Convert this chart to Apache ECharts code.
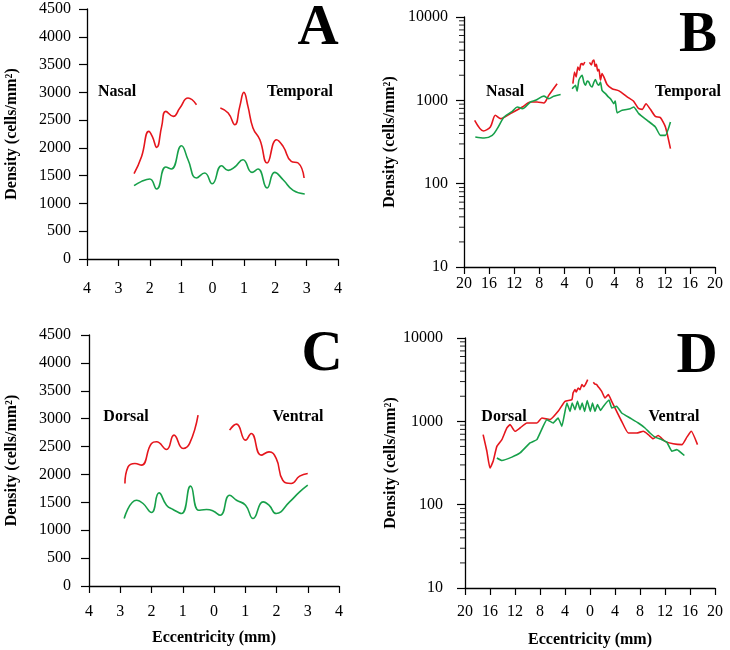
<!DOCTYPE html>
<html><head><meta charset="utf-8">
<script src="https://cdn.jsdelivr.net/npm/echarts@6/dist/echarts.min.js"></script>
<style>html,body{margin:0;padding:0;background:#fff}#c{width:730px;height:650px}</style>
</head><body><div id="c"></div>
<script>
// ---------- Data (eccentricity mm, nasal/dorsal negative ; density cells/mm2) ----------
const linYTicks = [0, 500, 1000, 1500, 2000, 2500, 3000, 3500, 4000, 4500];
const logYTicks = [10, 100, 1000, 10000];
const logMinor = [20,30,40,50,60,70,80,90,200,300,400,500,600,700,800,900,2000,3000,4000,5000,6000,7000,8000,9000];

// Panel A (linear, mm)
const A_redNasal = [[-2.50,1535],[-2.26,1847],[-2.03,2297],[-1.92,2207],[-1.78,2009],[-1.62,2387],[-1.49,2657],[-1.25,2567],[-1.04,2718],[-0.78,2898],[-0.51,2777]];
const A_redTemporal = [[0.25,2718],[0.5,2628],[0.71,2417],[0.87,2747],[1.0,2999],[1.13,2747],[1.29,2358],[1.51,2147],[1.74,1728],[2.04,2147],[2.25,2027],[2.51,1757],[2.73,1728],[2.92,1458]];
const A_green = [[-2.50,1319],[-2.26,1397],[-2.0,1440],[-1.78,1260],[-1.49,1656],[-1.31,1620],[-0.99,2039],[-0.78,1787],[-0.51,1458],[-0.25,1548],[-0.01,1355],[0.29,1679],[0.5,1595],[0.71,1656],[0.97,1787],[1.26,1559],[1.45,1620],[1.74,1278],[1.98,1559],[2.25,1427],[2.57,1235],[2.94,1170]];

// Panel B (log, mm)
const B_redNasal = [[-18.3,576],[-16.9,429],[-15.8,479],[-15.0,661],[-14.2,603],[-12.6,693],[-10.7,832],[-9.4,955],[-8.35,955],[-7.28,929],[-6.5,1148],[-5.16,1585]];
const B_greenNasal = [[-18.2,363],[-16.8,353],[-15.5,380],[-14.7,458],[-13.6,631],[-12.3,738],[-11.5,832],[-10.7,794],[-9.4,955],[-8.6,1000],[-7.28,1122],[-6.5,1047],[-5.7,1122],[-4.6,1175]];
const B_redCentre = [[-2.65,1585],[-2.4,2188],[-2.13,1905],[-1.86,2512],[-1.6,2300],[-1.4,2700],[-1.18,2754],[-1.0,2650],[-0.75,2884]];
const B_redTemporal = [[0.0,2850],[0.3,2650],[0.5,2950],[0.7,3050],[0.9,2550],[1.1,2700],[1.3,2250],[1.5,2350],[1.75,1750],[2.0,2100],[2.3,1900],[2.8,1550],[3.6,1380],[4.7,1300],[6.0,1100],[7.0,980],[7.8,800],[8.4,780],[9.0,910],[9.7,780],[10.5,640],[11.3,620],[12.1,480],[12.9,263]];
const B_greenTemporal = [[-2.77,1380],[-2.5,1450],[-2.23,1514],[-1.97,1288],[-1.7,1738],[-1.45,1900],[-1.17,1995],[-0.9,1650],[-0.64,1514],[-0.38,1700],[-0.11,1660],[0.15,1500],[0.42,1445],[0.7,1650],[0.95,1778],[1.2,1600],[1.48,1514],[1.75,1660],[2.0,1318],[2.55,1202],[3.0,1100],[3.34,1047],[3.87,912],[4.1,980],[4.4,708],[5.2,759],[6.5,794],[7.06,832],[7.85,692],[9.2,575],[10.5,479],[11.3,380],[12.1,380],[12.9,550]];

// Panel C (linear, mm)
const C_redDorsal = [[-2.85,1838],[-2.75,2136],[-2.53,2197],[-2.32,2167],[-2.0,2556],[-1.84,2585],[-1.52,2448],[-1.28,2705],[-0.99,2466],[-0.78,2556],[-0.51,3064]];
const C_redVentral = [[0.5,2795],[0.72,2902],[1.01,2615],[1.19,2735],[1.51,2346],[1.76,2405],[1.99,2287],[2.2,1897],[2.47,1838],[2.74,1969],[3.0,2017]];
const C_green = [[-2.875,1210],[-2.48,1538],[-2.27,1479],[-2.0,1317],[-1.76,1669],[-1.52,1449],[-1.31,1371],[-1.04,1300],[-0.75,1790],[-0.49,1359],[-0.24,1371],[-0.03,1346],[0.2,1269],[0.5,1628],[0.72,1538],[1.01,1449],[1.25,1210],[1.57,1508],[1.76,1449],[1.99,1300],[2.42,1508],[2.74,1687],[3.0,1808]];

// Panel D (log, mm)
const D_redDorsal = [[-17.1,692],[-16.5,437],[-16.0,275],[-15.5,331],[-14.9,501],[-14.1,603],[-13.3,832],[-12.8,912],[-12.0,759],[-11.2,832],[-10.1,955],[-8.5,955],[-7.7,1096],[-6.4,1047],[-5.1,1318],[-4.0,1738],[-2.9,1820],[-2.7,2200],[-2.4,2399],[-2.2,2250],[-1.9,2512],[-1.6,2400],[-1.3,2754],[-1.0,2600],[-0.7,2800],[-0.37,3162]];
const D_redVentral = [[0.53,2951],[0.8,2800],[1.07,2754],[1.3,2600],[1.6,2450],[1.87,2291],[2.4,1905],[2.93,2089],[3.47,1738],[4.27,1318],[5.07,1000],[6.13,724],[7.47,724],[8.53,759],[9.33,692],[10.1,617],[10.9,676],[12.0,575],[13.3,537],[14.7,525],[15.5,646],[16.2,759],[17.2,525]];
const D_green = [[-14.9,363],[-14.1,339],[-12.5,372],[-11.2,417],[-9.6,550],[-8.5,603],[-6.9,1047],[-5.9,955],[-5.1,1096],[-4.5,871],[-3.7,1660],[-3.2,1318],[-2.85,1660],[-2.4,1380],[-2.0,1738],[-1.6,1380],[-1.25,1660],[-0.85,1318],[-0.45,1778],[0.05,1318],[0.4,1660],[0.8,1318],[1.2,1585],[1.7,1350],[2.1,1500],[3.04,1800],[3.47,1450],[4.27,1514],[5.07,1259],[6.4,1096],[7.73,955],[8.8,832],[9.6,724],[10.4,646],[11.5,603],[12.3,562],[13.1,437],[13.9,457],[15.1,389]];

const panelLetters = ['A', 'B', 'C', 'D'];
const sideLabels = [['Nasal','Temporal'],['Nasal','Temporal'],['Dorsal','Ventral'],['Dorsal','Ventral']];
const yTitle = 'Density (cells/mm\u00B2)';
const xTitle = 'Eccentricity (mm)';

// ---------- Styling ----------
const SERIF = '"Liberation Serif","Times New Roman",serif';
const RED = '#e5161d', GREEN = '#17a04a';
const chart = echarts.init(document.getElementById('c'));

const grids = [
  {left: 87, top: 9, width: 251, height: 250},
  {left: 464, top: 17, width: 251, height: 250},
  {left: 89, top: 335, width: 250, height: 251},
  {left: 465, top: 338, width: 250, height: 250}
];

function xAxis(gi, isLog, withName, margin) {
  return {
    type: 'value', gridIndex: gi,
    min: isLog ? -20 : -4, max: isLog ? 20 : 4, interval: isLog ? 4 : 1,
    axisLine: {onZero: false, lineStyle: {color: '#000', width: 1.3}},
    axisTick: {length: 7, lineStyle: {color: '#000', width: 1.2}},
    axisLabel: {formatter: v => String(Math.abs(v)), fontFamily: SERIF, fontSize: 16, color: '#000', margin: margin},
    splitLine: {show: false},
    name: withName ? xTitle : '', nameLocation: 'middle', nameGap: 44,
    nameTextStyle: {fontFamily: SERIF, fontSize: 16, fontWeight: 'bold', color: '#000'}
  };
}
function yAxis(gi, isLog, margin, gap) {
  const base = {
    gridIndex: gi, position: 'left',
    axisLine: {show: true, onZero: false, lineStyle: {color: '#000', width: 1.3}},
    axisTick: {show: true, length: 8, lineStyle: {color: '#000', width: 1.2}},
    axisLabel: {fontFamily: SERIF, fontSize: 16, color: '#000', margin: margin,
      formatter: v => String(Math.round(v))},
    splitLine: {show: false},
    name: yTitle, nameLocation: 'middle', nameGap: gap, nameRotate: 90,
    nameTextStyle: {fontFamily: SERIF, fontSize: 16, fontWeight: 'bold', color: '#000'}
  };
  if (isLog) return Object.assign(base, {type: 'log', logBase: 10, min: logYTicks[0], max: logYTicks[logYTicks.length-1]});
  return Object.assign(base, {type: 'value', min: linYTicks[0], max: linYTicks[linYTicks.length-1], interval: linYTicks[1]-linYTicks[0]});
}

function line(idx, data, color, smooth) {
  return {type: 'line', xAxisIndex: idx, yAxisIndex: idx, data: data, showSymbol: false, symbol: 'none',
    smooth: smooth, lineStyle: {color: color, width: 1.6}, silent: true, animation: false, z: 3};
}
function minorTicks(idx) {
  return {type: 'custom', xAxisIndex: idx, yAxisIndex: idx, silent: true, animation: false, clip: false,
    data: logMinor.map(v => [-20, v]),
    renderItem: (p, api) => {
      const pt = api.coord([api.value(0), api.value(1)]);
      return {type: 'line', shape: {x1: pt[0] - 5, y1: pt[1], x2: pt[0], y2: pt[1]},
        style: {stroke: '#222', lineWidth: 1}};
    }};
}

const letterPos = [[318, 29], [698, 36], [322, 355], [697, 357]];
const sidePos = [[[117, 92], [300, 92]], [[505, 92], [688, 92]], [[126, 417], [298, 417]], [[504, 417], [674, 417]]];
const graphics = [];
panelLetters.forEach((L, i) => {
  graphics.push({type: 'text', x: letterPos[i][0], y: letterPos[i][1], z: 10,
    style: {text: L, font: 'bold 57px ' + SERIF, fill: '#000', textAlign: 'center', textVerticalAlign: 'middle'}});
  sideLabels[i].forEach((s, j) => {
    graphics.push({type: 'text', x: sidePos[i][j][0], y: sidePos[i][j][1], z: 10,
      style: {text: s, font: 'bold 16px ' + SERIF, fill: '#000', textAlign: 'center', textVerticalAlign: 'middle'}});
  });
});

chart.setOption({
  animation: false,
  backgroundColor: '#fff',
  grid: grids,
  xAxis: [xAxis(0, false, false, 22), xAxis(1, true, false, 9), xAxis(2, false, true, 18), xAxis(3, true, true, 16)],
  yAxis: [yAxis(0, false, 16, 67), yAxis(1, true, 16, 66), yAxis(2, false, 18, 69), yAxis(3, true, 22, 66)],
  graphic: graphics,
  series: [
    line(0, A_redNasal, RED, 0.5), line(0, A_redTemporal, RED, 0.5), line(0, A_green, GREEN, 0.5),
    line(1, B_redNasal, RED, 0.3), line(1, B_greenNasal, GREEN, 0.3), line(1, B_redCentre, RED, 0.1),
    line(1, B_redTemporal, RED, 0.2), line(1, B_greenTemporal, GREEN, 0.15), minorTicks(1),
    line(2, C_redDorsal, RED, 0.5), line(2, C_redVentral, RED, 0.5), line(2, C_green, GREEN, 0.5),
    line(3, D_redDorsal, RED, 0.15), line(3, D_redVentral, RED, 0.15), line(3, D_green, GREEN, 0.1), minorTicks(3)
  ]
});
</script>
</body></html>
